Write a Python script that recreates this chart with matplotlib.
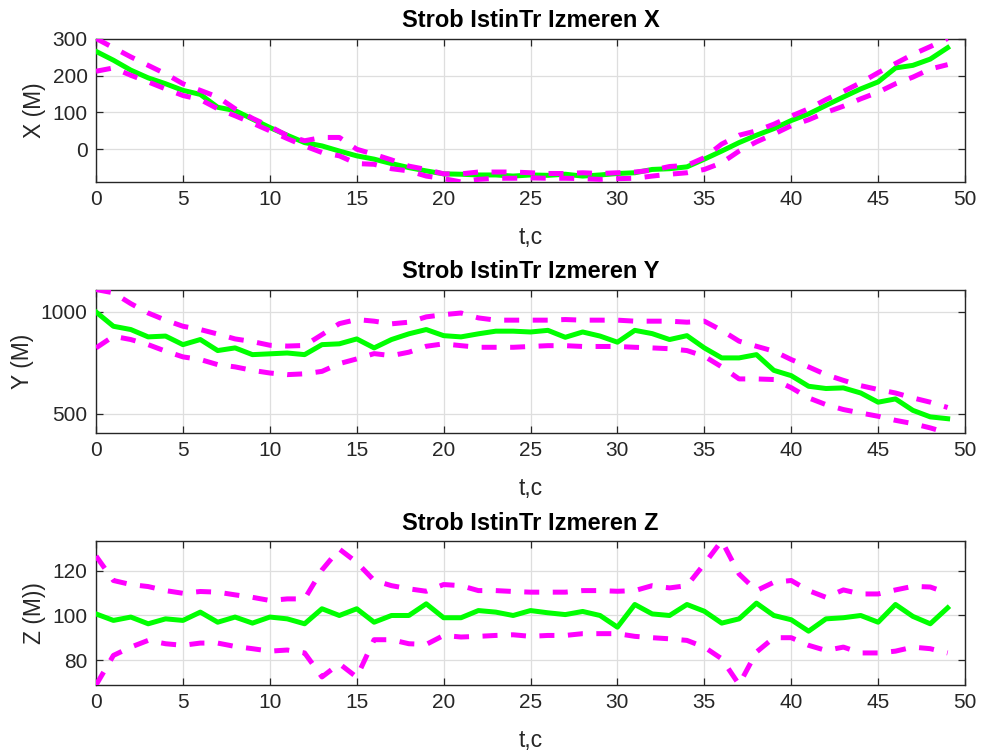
import numpy as np
import matplotlib
matplotlib.use('Agg')
import matplotlib.pyplot as plt

plt.rcParams['font.family'] = ['Liberation Sans', 'DejaVu Sans']

t = np.arange(50)

# X coordinate: measured track and gate bounds
x_meas = [266, 242, 215, 194, 178, 160, 149, 114, 105, 82, 59, 38, 18, 9, -5, -18, -27, -39, -50, -59,
          -67, -68, -70, -70, -73, -70, -71, -68, -73, -70, -66, -64, -55, -53, -48, -27, -5, 18, 38, 56,
          78, 96, 119, 142, 164, 183, 221, 228, 245, 276]
x_up = [301, 276, 251, 228, 205, 178, 160, 142, 110, 84, 62, 37, 23, 32, 32, 0, -14, -29, -46, -55,
        -67, -67, -62, -62, -62, -64, -66, -66, -64, -66, -64, -62, -57, -47, -44, -23, 14, 38, 50, 68,
        90, 110, 135, 157, 181, 208, 233, 258, 279, 301]
x_lo = [212, 221, 201, 183, 164, 146, 135, 110, 91, 71, 50, 29, 9, -9, -18, -39, -41, -53, -59, -73,
        -80, -89, -82, -79, -79, -78, -79, -79, -80, -82, -80, -79, -73, -68, -64, -55, -37, -5, 20, 41,
        64, 80, 100, 117, 137, 155, 178, 196, 218, 230]

# Y coordinate
y_meas = [998, 928, 912, 876, 880, 838, 863, 809, 822, 789, 793, 797, 789, 838, 842, 866, 822, 863, 891, 912,
          882, 876, 891, 904, 904, 900, 908, 874, 900, 880, 850, 908, 892, 863, 882, 822, 773, 773, 789, 712,
          686, 634, 623, 626, 601, 556, 572, 516, 484, 475]
y_up = [1108, 1092, 1039, 993, 958, 928, 912, 890, 866, 853, 835, 831, 834, 887, 941, 961, 953, 940, 948, 974,
        985, 993, 969, 958, 958, 958, 958, 961, 958, 958, 958, 953, 953, 953, 948, 953, 908, 855, 830, 806,
        765, 729, 691, 663, 637, 618, 601, 577, 556, 530]
y_lo = [822, 879, 863, 838, 806, 778, 765, 740, 729, 712, 699, 691, 695, 707, 745, 768, 794, 784, 801, 830,
        842, 833, 825, 825, 825, 829, 833, 833, 829, 829, 829, 825, 822, 818, 809, 781, 729, 670, 670, 667,
        627, 577, 544, 520, 503, 487, 467, 451, 430, 405]

# Z coordinate
z_meas = [100.7, 97.8, 99.3, 96.3, 98.5, 97.8, 101.5, 97.0, 99.3, 96.6, 99.3, 98.5, 96.3, 103.0, 100.0, 103.0,
          97.0, 100.0, 100.0, 105.2, 99.0, 99.0, 102.2, 101.5, 100.0, 102.2, 101.2, 100.4, 101.8, 100.0, 94.8,
          104.9, 100.7, 100.0, 104.9, 101.9, 96.6, 98.5, 105.5, 100.0, 98.1, 93.0, 98.5, 99.0, 100.0, 97.0,
          104.9, 99.6, 96.3, 103.4]
z_up = [126.5, 115.6, 113.8, 112.9, 111.1, 109.9, 110.7, 110.4, 109.2, 108.1, 106.7, 107.4, 107.4, 120.3, 129.6,
        123.7, 115.6, 113.3, 111.9, 110.8, 113.8, 113.3, 111.1, 111.1, 110.7, 110.4, 110.4, 110.4, 111.1, 111.1,
        110.8, 111.1, 113.3, 112.3, 113.3, 123.0, 133.3, 118.5, 111.1, 114.8, 115.6, 111.1, 108.1, 111.4, 109.6,
        109.6, 111.4, 113.0, 112.7, 110.0]
z_lo = [69.0, 82.2, 85.9, 88.9, 87.4, 86.7, 87.7, 87.7, 86.2, 85.2, 84.1, 84.6, 83.3, 72.6, 78.5, 72.5, 89.2,
        89.2, 87.4, 87.1, 91.1, 90.4, 90.7, 91.1, 91.4, 90.7, 91.1, 91.1, 91.9, 91.9, 91.9, 90.7, 90.1, 89.6,
        88.9, 85.9, 80.7, 69.2, 83.7, 90.1, 90.1, 86.7, 84.4, 85.9, 83.3, 83.3, 84.1, 85.9, 85.2, 83.3]

panels = [
    ('Strob IstinTr Izmeren X', 'X (M)', x_meas, x_up, x_lo, [0, 100, 200, 300]),
    ('Strob IstinTr Izmeren Y', 'Y (M)', y_meas, y_up, y_lo, [500, 1000]),
    ('Strob IstinTr Izmeren Z', 'Z (M))', z_meas, z_up, z_lo, [80, 100, 120]),
]
boxes = [[0.0979, 0.759, 0.8858, 0.190],
         [0.0979, 0.4265, 0.8858, 0.190],
         [0.0979, 0.0927, 0.8858, 0.191]]

fig = plt.figure(figsize=(9.81, 7.55), dpi=100)
dark = '#262626'

for (title, ylab, meas, up, lo, yt), box in zip(panels, boxes):
    ax = fig.add_axes(box)
    ax.plot(t, meas, color='#00ff00', lw=3.6, solid_joinstyle='round', zorder=3)
    ax.plot(t, up, color='#ff00ff', lw=3.6, linestyle=(0, (3.0, 2.7)), zorder=4)
    ax.plot(t, lo, color='#ff00ff', lw=3.6, linestyle=(0, (3.0, 2.7)), zorder=4)
    ax.set_xlim(0, 50)
    ax.set_ylim(min(lo), max(up))
    ax.set_xticks(range(0, 51, 5))
    ax.set_yticks(yt)
    ax.grid(True, color='#dedede', lw=0.9)
    ax.set_axisbelow(True)
    ax.tick_params(direction='in', length=5, width=0.9, top=True, right=True,
                   colors=dark, labelsize=15, pad=6)
    for s in ax.spines.values():
        s.set_color(dark)
        s.set_linewidth(1.0)
    ax.set_title(title, fontsize=17, fontweight='bold', pad=8)
    ax.set_xlabel('t,c', fontsize=16.5, color=dark, labelpad=12)
    ax.set_ylabel(ylab, fontsize=16.5, color=dark, labelpad=5)

fig.savefig('out.png', dpi=100)
